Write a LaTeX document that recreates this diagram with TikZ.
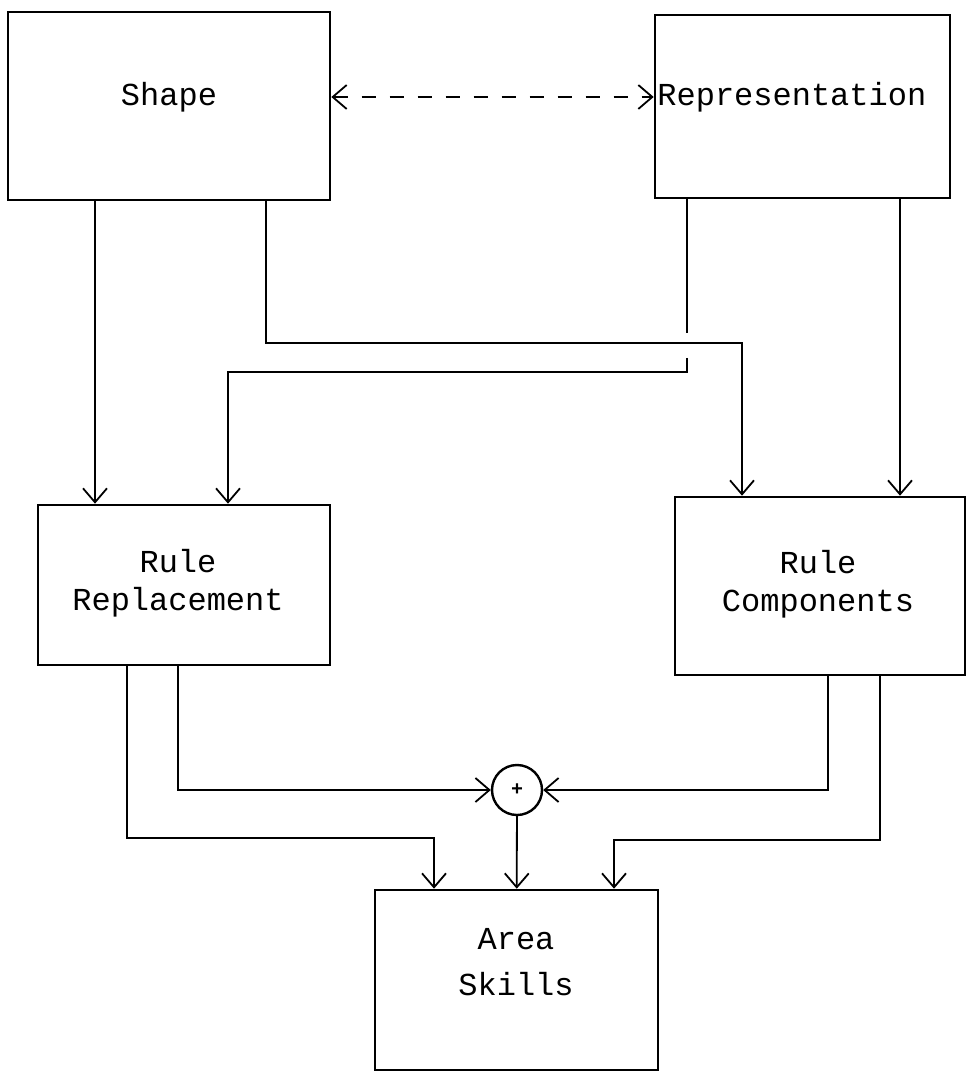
\documentclass[tikz,border=0pt]{standalone}
\usepackage{fontspec}
\setmainfont{Liberation Mono}
\usetikzlibrary{arrows.meta,calc}
\begin{document}
\begin{tikzpicture}[x=0.5pt,y=-0.5pt]
\tikzset{
 box/.style={draw, line width=1.3pt, inner sep=0pt},
 lbl/.style={font=\fontsize{16}{19}\selectfont, align=center, inner sep=0pt},
 conn/.style={line width=0.9pt},
 tip/.style={Straight Barb[length=7pt,width=12pt]},
 arr/.style={conn, -{Straight Barb[length=7pt,width=12pt]}},
}
\useasboundingbox (0,0) rectangle (968,1074);
% boxes
\node[box, minimum width=161pt, minimum height=94pt] (shape) at (169,106) {};
\node[lbl] (shapet) at (169,97) {Shape};
\node[box, minimum width=147.5pt, minimum height=91.5pt] (repr) at (802.5,106.5) {};
\node[lbl, anchor=west] (reprt) at (657,97) {Representation};
\node[box, minimum width=146pt, minimum height=80pt] (rr) at (184,585) {};
\node[lbl] (rrt) at (178,583) {Rule\\Replacement};
\node[box, minimum width=145pt, minimum height=89pt] (rc) at (820,586) {};
\node[lbl] (rct) at (818,584) {Rule\\Components};
\node[box, minimum width=141.5pt, minimum height=90pt] (area) at (516.5,980) {};
\node[lbl] (areat) at (516,962) {Area\\[4pt]Skills};
\node[draw, circle, line width=1.2pt, minimum size=25pt, inner sep=0pt] (sum) at (517,790) {\bfseries\fontsize{10}{10}\selectfont +};
% gap in crossing line
\coordinate (gapA) at (687,333);
\coordinate (gapB) at (687,358);
% connectors
\draw[conn, dash pattern=on 7pt off 7pt, {Straight Barb[length=7pt,width=12pt]}-{Straight Barb[length=7pt,width=12pt]}] (shape.east |- shapet) -- (repr.west |- shapet);
\draw[arr] (shape.south -| 95,0) -- (rr.north -| 95,0);
\draw[arr] (shape.south -| 266,0) -- (266,343) -- (742,343) -- (rc.north -| 742,0);
\draw[conn] (repr.south -| 687,0) -- (gapA);
\draw[arr] (gapB) -- (687,372) -- (228,372) -- (rr.north -| 228,0);
\draw[arr] (repr.south -| 900,0) -- (rc.north -| 900,0);
\draw[arr] (rr.south -| 178,0) -- (178,790) -- (sum.west);
\draw[arr] (rc.south -| 828,0) -- (828,790) -- (sum.east);
\draw[arr] (rr.south -| 127,0) -- (127,838) -- (434,838) -- (area.north -| 434,0);
\draw[arr] (rc.south -| 880,0) -- (880,840) -- (614,840) -- (area.north -| 614,0);
\draw[arr] (sum) -- (area);
\end{tikzpicture}
\end{document}
